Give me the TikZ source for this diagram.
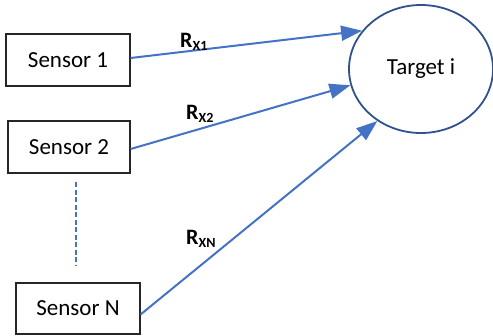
\documentclass[tikz,border=0pt]{standalone}
\usepackage{fontspec}
\setmainfont{Carlito}
\usetikzlibrary{arrows.meta,shapes.geometric}
\definecolor{arrowblue}{HTML}{4472C4}
\definecolor{circblue}{HTML}{2F528F}
\tikzset{
  sensorbox/.style={draw=black!85, line width=1.1pt, minimum width=124pt, minimum height=52pt, inner sep=0pt, font=\fontsize{23}{27}\selectfont},
  targetnode/.style={ellipse, draw=circblue, line width=1.8pt, minimum width=144pt, minimum height=128pt, inner sep=0pt, font=\fontsize{23}{27}\selectfont},
  rangearrow/.style={draw=arrowblue, line width=2pt, -{Triangle[length=21pt,width=15pt]}},
  rlabel/.style={anchor=base west, inner sep=0pt, font=\fontsize{22}{26}\selectfont\bfseries},
  dots/.style={draw=arrowblue, line width=2pt, dash pattern=on 5pt off 2.5pt}
}
\newcommand{\rsub}[1]{R\raisebox{-3pt}{\fontsize{14}{16}\selectfont\bfseries #1}}
\begin{document}
\begin{tikzpicture}[x=1pt,y=-1pt]
\useasboundingbox (0,0) rectangle (493,335);
\node[sensorbox] (s1) at (68,60) {Sensor 1};
\node[sensorbox, minimum width=122pt] (s2) at (69,147) {Sensor 2};
\node[sensorbox, minimum height=51pt] (sn) at (78,308.5) {Sensor N};
\node[targetnode] (t) at (421,69) {Target i};
\draw[rangearrow] ([yshift=2pt]s1.east) -- (t.147);
\draw[rangearrow] ([yshift=-2pt]s2.east) -- (t.193);
\draw[rangearrow] ([yshift=-6pt]sn.east) -- (t.230);
\node[rlabel] (r1) at (180,47) {\rsub{X1}};
\node[rlabel] (r2) at (186,119) {\rsub{X2}};
\node[rlabel] (rn) at (186,244) {\rsub{XN}};
\coordinate (d1) at (76,182);
\coordinate (d2) at (76,265);
\draw[dots] (d1) -- (d2);
\end{tikzpicture}
\end{document}
